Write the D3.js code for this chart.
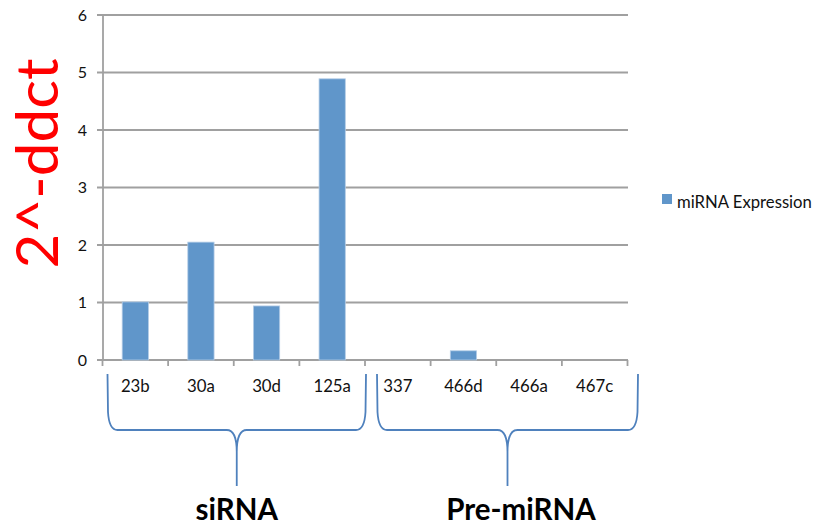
<!DOCTYPE html>
<html><head><meta charset="utf-8">
<script src="https://cdn.jsdelivr.net/npm/d3@7"></script>
<style>body{margin:0;background:#fff}svg{display:block}</style>
</head><body>
<svg id="c" width="814" height="527"></svg>
<script>
const categories = ["23b","30a","30d","125a","337","466d","466a","467c"];
const values = [1.01, 2.05, 0.94, 4.89, 0, 0.16, 0, 0];
const yTicks = [0,1,2,3,4,5,6];
const groups = [{label:"siRNA", from:0, to:3}, {label:"Pre-miRNA", from:4, to:7}];
const seriesName = "miRNA Expression";
const yTitle = "2^-ddct";

const svg = d3.select("#c");
const font = "Lato, 'Open Sans', sans-serif";
const x = d3.scaleBand().domain(categories).range([102.5, 627.5]);
const y = d3.scaleLinear().domain([0,6]).range([360,15]);
const gridColor = "#a0a0a0";

// gridlines
svg.append("g").selectAll("line").data(yTicks).join("line")
  .attr("x1", 97).attr("x2", 628)
  .attr("y1", d=>y(d)).attr("y2", d=>y(d))
  .attr("stroke", gridColor).attr("stroke-width", 1.8);
// y axis line
svg.append("line").attr("x1",103).attr("x2",103).attr("y1",y(6)).attr("y2",y(0))
  .attr("stroke",gridColor).attr("stroke-width",1.8);
// y tick labels
svg.append("g").selectAll("text").data(yTicks).join("text")
  .attr("x", 87).attr("y", d=>y(d)+5.5).attr("text-anchor","end")
  .attr("font-family",font).attr("font-size",16).attr("fill","#111").text(d=>d);
// x tick marks at band boundaries
const bounds = categories.map(c=>x(c)).concat([x(categories[categories.length-1])+x.bandwidth()]);
svg.append("g").selectAll("line").data(bounds).join("line")
  .attr("x1",d=>d).attr("x2",d=>d).attr("y1",y(0)).attr("y2",y(0)+6)
  .attr("stroke",gridColor).attr("stroke-width",1.8);
// x labels
svg.append("g").selectAll("text").data(categories).join("text")
  .attr("x", d=>x(d)+x.bandwidth()/2).attr("y", 391.5).attr("text-anchor","middle")
  .attr("font-family",font).attr("font-size",16.8).attr("fill","#111").text(d=>d);

// bars
const bw = x.bandwidth()*0.4;
svg.append("g").selectAll("rect").data(values).join("rect")
  .attr("x",(d,i)=>x(categories[i])+x.bandwidth()/2-bw/2)
  .attr("width",bw)
  .attr("y",d=>y(d)).attr("height",d=>y(0)-y(d))
  .attr("fill","#6096ca").attr("stroke","#b4cce6").attr("stroke-width",0.8)
  .style("display",d=>d>0?null:"none");

// legend
svg.append("rect").attr("x",662).attr("y",194).attr("width",10).attr("height",10).attr("fill","#6096ca");
svg.append("text").attr("x",677).attr("y",207.5).attr("font-family",font).attr("font-size",16.7)
  .attr("fill","#111").text(seriesName);

// y title
svg.append("text").attr("transform","translate(58,163.5) rotate(-90)")
  .attr("text-anchor","middle").attr("font-family",font).attr("font-size",58)
  .attr("textLength",210).attr("lengthAdjust","spacingAndGlyphs")
  .attr("fill","#ff0000").text(yTitle);

// braces
function bracePath(x0, x1){
  const top=374, h=430, tip=486, cx=(x0+x1)/2;
  return `M${x0},${top} L${x0+0.5},${h-18} Q${x0+1.5},${h} ${x0+10},${h} L${cx-10},${h} C${cx-3},${h} ${cx},${h+8} ${cx},${h+22} L${cx},${tip} M${cx},${h+22} C${cx},${h+8} ${cx+3},${h} ${cx+10},${h} L${x1-10},${h} Q${x1-1.5},${h} ${x1-0.5},${h-18} L${x1},${top}`;
}
groups.forEach((g,i)=>{
  const x0 = x(categories[g.from]) + (i===0?5:12);
  const x1 = x(categories[g.to]) + x.bandwidth() + (i===0?1:10.5);
  svg.append("path").attr("d",bracePath(x0,x1)).attr("fill","none")
    .attr("stroke","#4f81bd").attr("stroke-width",1.8);
  svg.append("text").attr("x",(x0+x1)/2+(i===0?0:13.5)).attr("y",520).attr("text-anchor","middle")
    .attr("font-family",font).attr("font-weight","bold").attr("font-size",29.5)
    .attr("fill","#000").text(g.label);
});
</script>
</body></html>
